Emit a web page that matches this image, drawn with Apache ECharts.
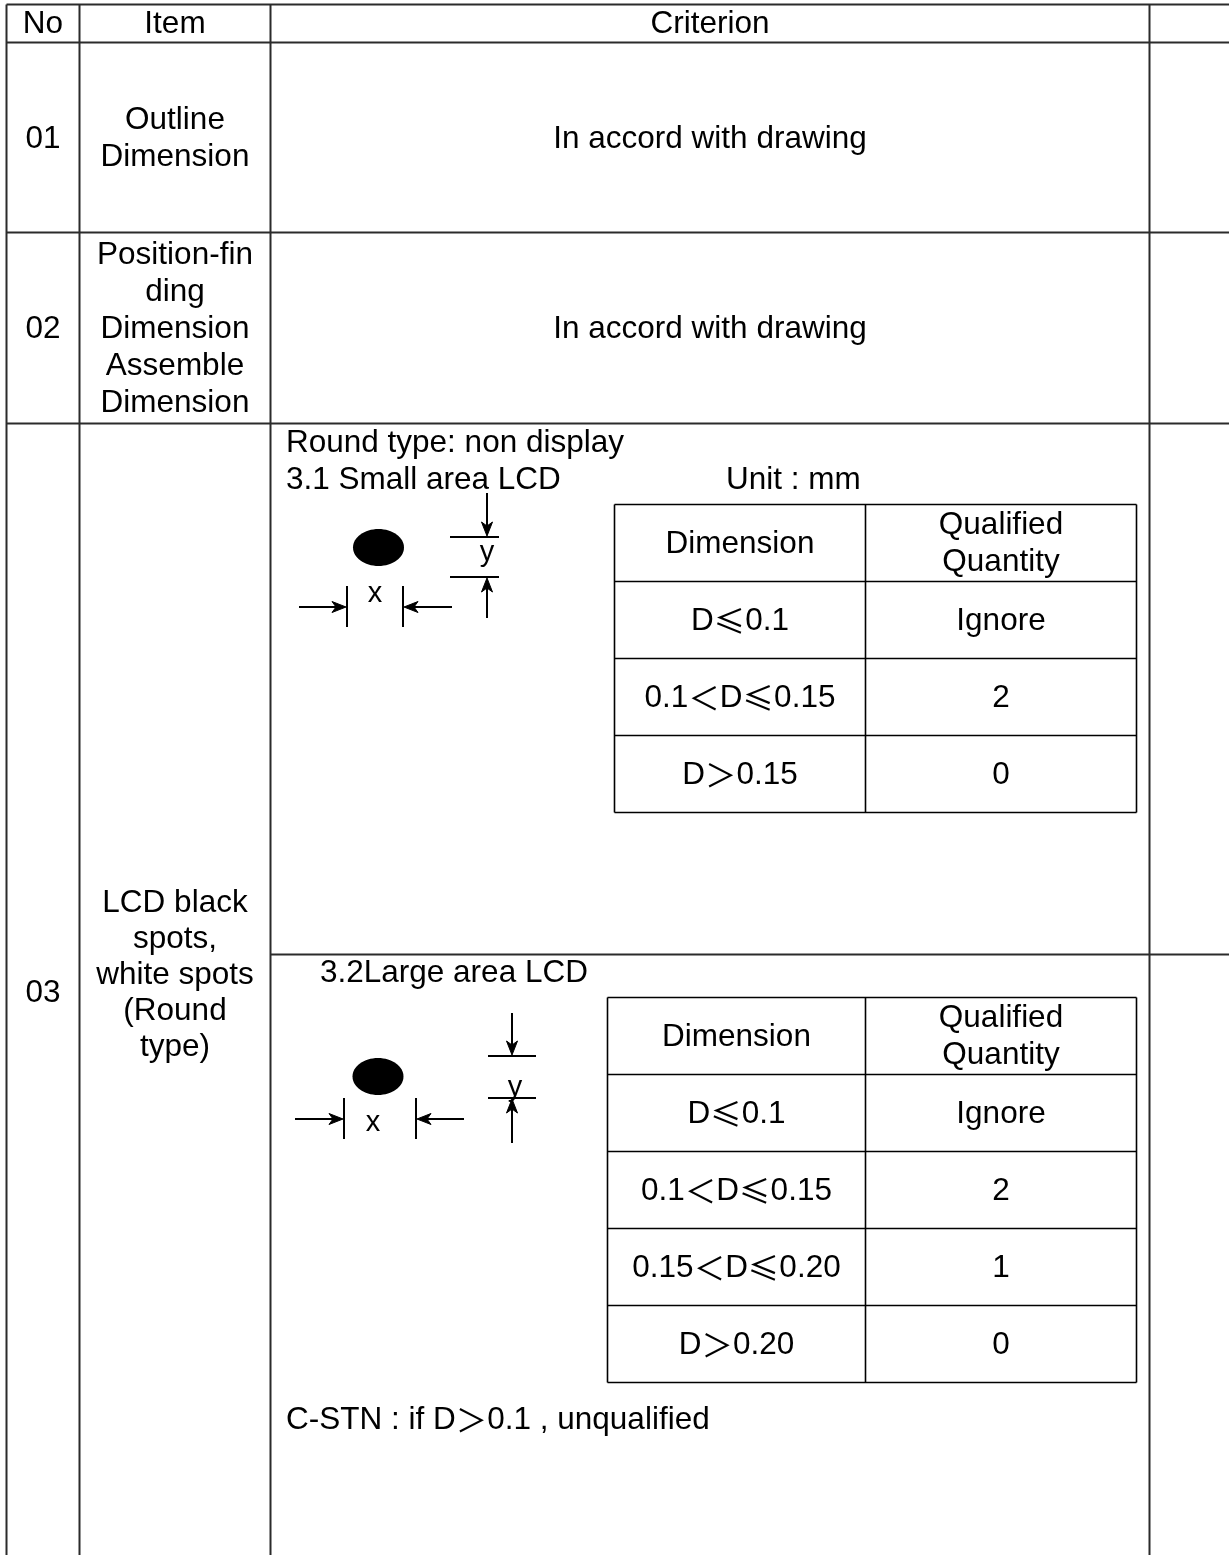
<!DOCTYPE html>
<html><head><meta charset="utf-8">
<script src="https://cdn.jsdelivr.net/npm/echarts@6/dist/echarts.min.js"></script>
<style>html,body{margin:0;padding:0;background:#fff;overflow:hidden}#c{width:1229px;height:1555px}</style>
</head><body><div id="c"></div>
<script>
// ---------- content (data) ----------
const headers = ['No', 'Item', 'Criterion', ''];
const rowNos = ['01', '02', '03'];
const rowItems = [
  ['Outline', 'Dimension'],
  ['Position-fin', 'ding', 'Dimension', 'Assemble', 'Dimension'],
  ['LCD black', 'spots,', 'white spots', '(Round', 'type)']
];
const rowCriteria = ['In accord with drawing', 'In accord with drawing'];
const sec31Lines = ['Round type: non display', '3.1 Small area LCD'];
const unitLabel = 'Unit : mm';
const specHeader = ['Dimension', ['Qualified', 'Quantity']];
const smallDims = ['D≤0.1', '0.1＜D≤0.15', 'D＞0.15'];
const smallQty = ['Ignore', '2', '0'];
const sec32Title = '3.2Large area LCD';
const largeDims = ['D≤0.1', '0.1＜D≤0.15', '0.15＜D≤0.20', 'D＞0.20'];
const largeQty = ['Ignore', '2', '1', '0'];
const cstnNote = 'C-STN : if D＞0.1 , unqualified';
const dimLabels = ['x', 'y'];

// ---------- layout ----------
const W = 1229, H = 1555;
const FONT = '"Liberation Sans", Arial, "Noto Sans CJK SC", sans-serif';
const CJK = '"Noto Sans CJK SC", "Liberation Sans", sans-serif';
const FS = 31.5, LH = 37;
const colX = [6.5, 79.5, 270.5, 1149.5];
const rowY = [4.5, 42.5, 232.5, 423.5];
const splitY = 954.5;
const tbl1 = { cols: [614.5, 865.5, 1136.5], top: 504.5, rowH: 77 };
const tbl2 = { cols: [607.5, 865.5, 1136.5], top: 997.5, rowH: 77 };
const fig1 = { cx: 378.5, cy: 547.5, xArrowY: 607, xTicks: [347, 403], tickY: [586, 627], xArrowOut: [299, 452], xLabel: [375, 594],
  yX: 487, yLines: [537, 577], yLineX: [450, 499], yArrowOut: [493, 618], yLabel: [487, 553] };
const fig2 = { cx: 378, cy: 1076.5, xArrowY: 1119, xTicks: [344, 416], tickY: [1098, 1139], xArrowOut: [295, 464], xLabel: [373, 1123],
  yX: 512, yLines: [1056, 1098], yLineX: [488, 536], yArrowOut: [1013, 1143], yLabel: [515, 1088] };

function renderTable(params, api) {
  const P = (x, y) => api.coord([x, y]);
  const kids = [];
  const line = (x1, y1, x2, y2, w, c) => {
    const a = P(x1, y1), b = P(x2, y2);
    kids.push({ type: 'line', shape: { x1: a[0], y1: a[1], x2: b[0], y2: b[1] }, style: { stroke: c || '#2b2b2b', lineWidth: w || 2 } });
  };
  const text = (s, x, y, align, size) => {
    const p = P(x, y);
    const sz = size || FS;
    // comparison signs are drawn from the CJK font, as in the source document
    const rs = s.replace(/([≤＜＞])/g, '{m|$1}');
    kids.push({ type: 'text', style: { text: rs, x: p[0], y: p[1], align: align || 'center', verticalAlign: 'middle',
      font: sz + 'px ' + FONT, fill: '#000',
      rich: { m: { fontFamily: CJK, fontSize: sz, fill: '#000' } } } });
  };
  const arrowHead = (tx, ty, dx, dy) => {
    const L = 14, Wd = 5.5;
    const px = -dy, py = dx;
    const pts = [[tx, ty], [tx - dx * L + px * Wd, ty - dy * L + py * Wd], [tx - dx * (L - 4), ty - dy * (L - 4)],
      [tx - dx * L - px * Wd, ty - dy * L - py * Wd]].map(q => P(q[0], q[1]));
    kids.push({ type: 'polygon', shape: { points: pts }, style: { fill: '#000', stroke: '#000', lineWidth: 1 } });
  };

  // main grid
  const right = W + 10, bottom = H + 10;
  for (let i = 0; i < rowY.length; i++) line(colX[0], rowY[i], right, rowY[i]);
  line(colX[2], splitY, right, splitY);
  colX.forEach(x => line(x, rowY[0], x, bottom));

  // header
  const colC = [(colX[0] + colX[1]) / 2, (colX[1] + colX[2]) / 2, (colX[2] + colX[3]) / 2, (colX[3] + W) / 2];
  headers.forEach((h, i) => { if (h) text(h, colC[i], (rowY[0] + rowY[1]) / 2 + 1); });

  // rows 01, 02
  for (let r = 0; r < 2; r++) {
    const cy = (rowY[r + 1] + rowY[r + 2]) / 2 + 1.5;
    text(rowNos[r], colC[0], cy);
    const it = rowItems[r];
    it.forEach((s, k) => text(s, colC[1], cy + (k - (it.length - 1) / 2) * LH));
    text(rowCriteria[r], colC[2], cy);
  }
  // row 03
  text(rowNos[2], colC[0], 993);
  rowItems[2].forEach((s, k) => text(s, colC[1], 903 + k * 36));

  // section 3.1
  sec31Lines.forEach((s, k) => text(s, 286, 443 + k * LH, 'left'));
  text(unitLabel, 726, 480, 'left');

  const drawSpec = (t, dims, qty) => {
    const n = dims.length + 1;
    const ys = []; for (let i = 0; i <= n; i++) ys.push(t.top + i * t.rowH);
    ys.forEach(y => line(t.cols[0], y, t.cols[2], y, 1.6, '#000'));
    t.cols.forEach(x => line(x, ys[0], x, ys[n], 1.6, '#000'));
    const c1 = (t.cols[0] + t.cols[1]) / 2, c2 = (t.cols[1] + t.cols[2]) / 2;
    const hc = (ys[0] + ys[1]) / 2 + 1;
    text(specHeader[0], c1, hc);
    specHeader[1].forEach((s, k) => text(s, c2, hc + (k - 0.5) * LH));
    dims.forEach((d, i) => {
      const cy = (ys[i + 1] + ys[i + 2]) / 2 + 1;
      text(d, c1, cy);
      text(qty[i], c2, cy);
    });
  };
  drawSpec(tbl1, smallDims, smallQty);

  const drawFig = (f) => {
    const e = P(f.cx, f.cy), e2 = P(f.cx + 25.5, f.cy + 18.5);
    kids.push({ type: 'ellipse', shape: { cx: e[0], cy: e[1], rx: e2[0] - e[0], ry: e2[1] - e[1] }, style: { fill: '#000' } });
    f.xTicks.forEach(x => line(x, f.tickY[0], x, f.tickY[1], 2, '#000'));
    line(f.xArrowOut[0], f.xArrowY, f.xTicks[0] - 4, f.xArrowY, 2, '#000');
    arrowHead(f.xTicks[0] - 1, f.xArrowY, 1, 0);
    line(f.xArrowOut[1], f.xArrowY, f.xTicks[1] + 4, f.xArrowY, 2, '#000');
    arrowHead(f.xTicks[1] + 1, f.xArrowY, -1, 0);
    text(dimLabels[0], f.xLabel[0], f.xLabel[1], 'center', 29);
    f.yLines.forEach(y => line(f.yLineX[0], y, f.yLineX[1], y, 2, '#000'));
    line(f.yX, f.yArrowOut[0], f.yX, f.yLines[0] - 4, 2, '#000');
    arrowHead(f.yX, f.yLines[0] - 1, 0, 1);
    line(f.yX, f.yArrowOut[1], f.yX, f.yLines[1] + 4, 2, '#000');
    arrowHead(f.yX, f.yLines[1] + 1, 0, -1);
    text(dimLabels[1], f.yLabel[0], f.yLabel[1], 'center', 29);
  };
  drawFig(fig1);

  // section 3.2
  text(sec32Title, 320, 973, 'left');
  drawSpec(tbl2, largeDims, largeQty);
  drawFig(fig2);
  text(cstnNote, 286, 1420, 'left');

  return { type: 'group', children: kids };
}

const chart = echarts.init(document.getElementById('c'), null, { renderer: 'canvas' });
chart.setOption({
  animation: false,
  backgroundColor: '#fff',
  grid: { left: 0, right: 0, top: 0, bottom: 0 },
  xAxis: { type: 'value', min: 0, max: W, show: false },
  yAxis: { type: 'value', min: 0, max: H, inverse: true, show: false },
  series: [{ type: 'custom', coordinateSystem: 'cartesian2d', data: [[0, 0]], renderItem: renderTable, clip: false, silent: true }]
});
</script>
</body></html>
